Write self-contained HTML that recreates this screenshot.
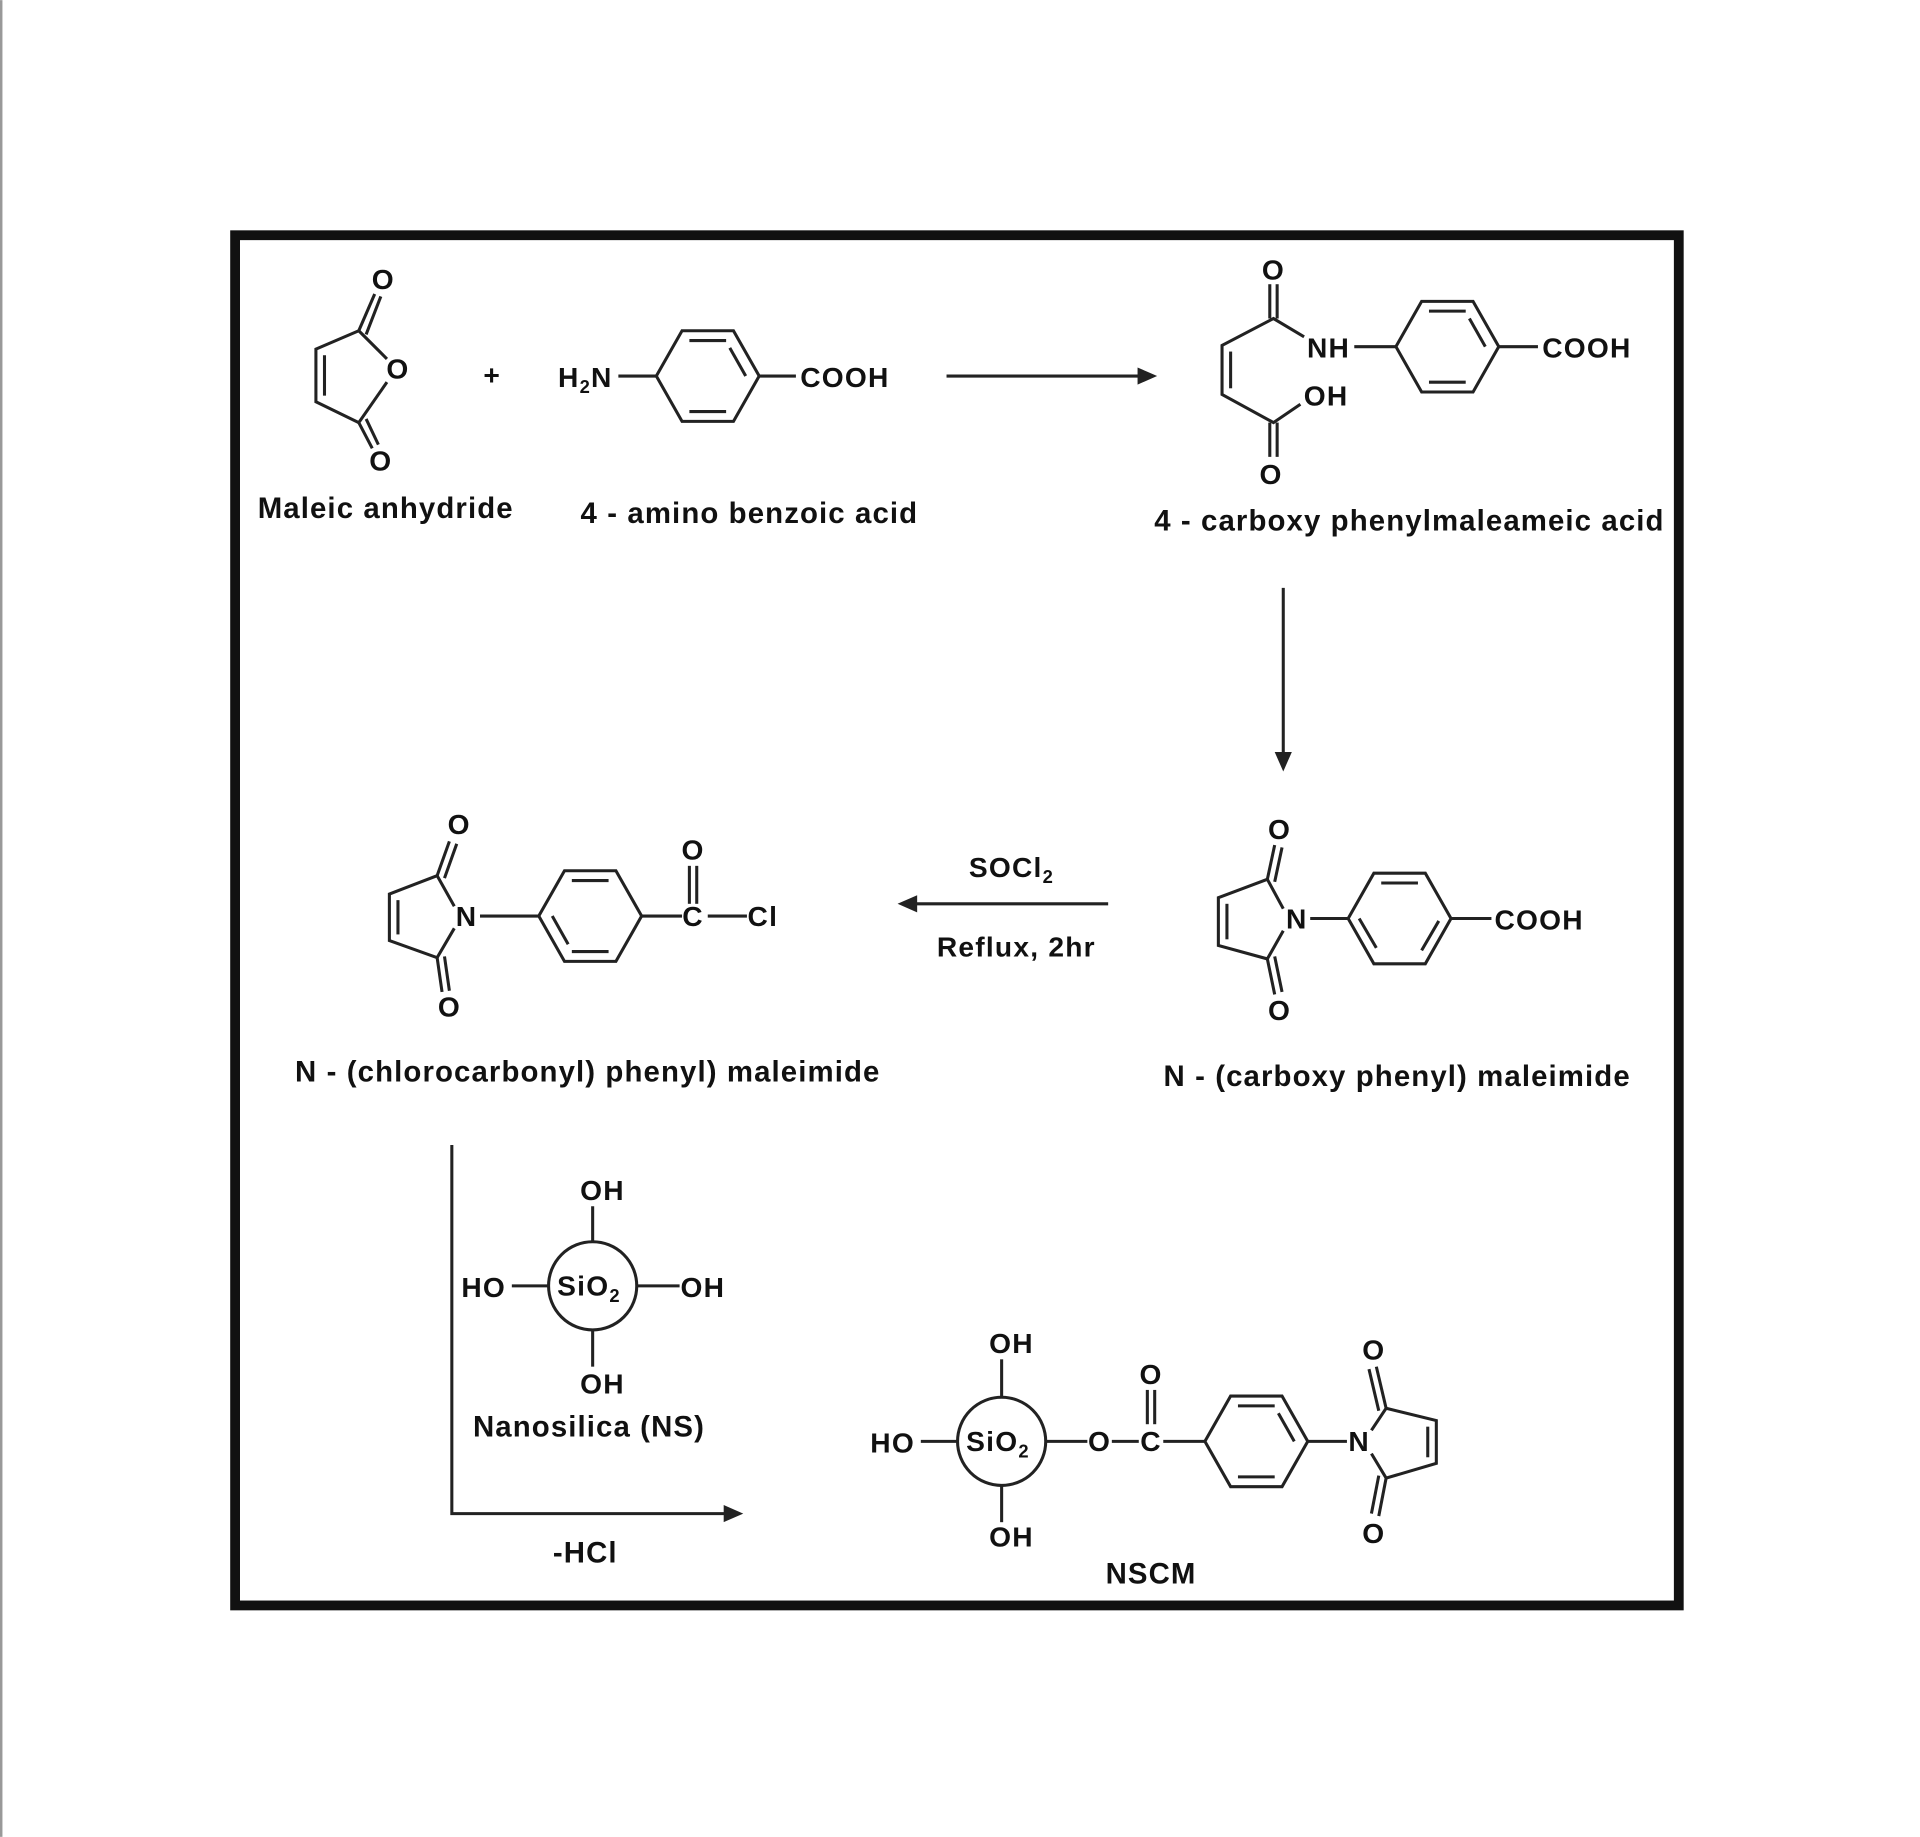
<!DOCTYPE html>
<html><head><meta charset="utf-8"><style>
html,body{margin:0;padding:0;background:#fff;}
svg{display:block;}
text{font-family:"Liberation Sans",Arial,sans-serif;font-weight:bold;fill:#111;}
</style></head><body>
<svg width="1920" height="1837" viewBox="0 0 1568 1500" xmlns="http://www.w3.org/2000/svg">
<line x1="1" y1="0" x2="1" y2="1500" stroke="#999" stroke-width="2"/>
<rect x="192" y="192" width="1179" height="1119" fill="none" stroke="#111" stroke-width="8"/>
<g stroke="#222" stroke-width="2.5" fill="none">
<polyline points="293,270 258,285 258,328 293,345"/>
<line x1="265" y1="290" x2="265" y2="323"/>
<line x1="293" y1="270" x2="316" y2="293"/>
<line x1="293" y1="345" x2="316" y2="312"/>
<line x1="293" y1="270" x2="306" y2="240"/><line x1="299" y1="273" x2="311" y2="242"/>
<line x1="293" y1="345" x2="304" y2="366"/><line x1="299" y1="342" x2="309" y2="363"/>
<line x1="505" y1="307" x2="536" y2="307"/>
<polygon points="536,307 557,270 599,270 620,307 599,344 557,344"/>
<line x1="563" y1="278" x2="593" y2="278"/><line x1="563" y1="336" x2="593" y2="336"/><line x1="609" y1="307" x2="596" y2="284"/>
<line x1="620" y1="307" x2="650" y2="307"/>
<line x1="773" y1="307" x2="935" y2="307"/>
<line x1="1037" y1="232" x2="1037" y2="260"/><line x1="1043" y1="232" x2="1043" y2="260"/>
<polyline points="1065,275 1040,260 998,282 998,322 1040,345 1062,330"/>
<line x1="1005" y1="287" x2="1005" y2="317"/>
<line x1="1037" y1="345" x2="1037" y2="373"/><line x1="1043" y1="345" x2="1043" y2="373"/>
<line x1="1106" y1="283" x2="1140" y2="283"/>
<polygon points="1140,283 1161,246 1203,246 1224,283 1203,320 1161,320"/>
<line x1="1167" y1="254" x2="1197" y2="254"/><line x1="1167" y1="312" x2="1197" y2="312"/><line x1="1213" y1="283" x2="1200" y2="260"/>
<line x1="1224" y1="283" x2="1256" y2="283"/>
<line x1="1048" y1="480" x2="1048" y2="620"/>
<polyline points="1048,742 1035,718 995,733 995,772 1035,783 1048,760"/>
<line x1="1002" y1="738" x2="1002" y2="767"/>
<line x1="1035" y1="718" x2="1041" y2="690"/><line x1="1041" y1="720" x2="1047" y2="692"/>
<line x1="1035" y1="783" x2="1041" y2="812"/><line x1="1041" y1="781" x2="1047" y2="810"/>
<line x1="1070" y1="750" x2="1101" y2="750"/>
<polygon points="1101,750 1122,713 1164,713 1185,750 1164,787 1122,787"/>
<line x1="1128" y1="721" x2="1158" y2="721"/><line x1="1110" y1="750" x2="1124" y2="774"/><line x1="1161" y1="776" x2="1175" y2="752"/>
<line x1="1185" y1="750" x2="1218" y2="750"/>
<line x1="905" y1="738" x2="745" y2="738"/>
<polyline points="371,740 357,715 318,730 318,768 357,782 371,758"/>
<line x1="325" y1="735" x2="325" y2="763"/>
<line x1="357" y1="715" x2="367" y2="687"/><line x1="363" y1="717" x2="373" y2="689"/>
<line x1="357" y1="782" x2="361" y2="810"/><line x1="363" y1="781" x2="367" y2="809"/>
<line x1="392" y1="748" x2="440" y2="748"/>
<polygon points="440,748 461,711 503,711 524,748 503,785 461,785"/>
<line x1="467" y1="719" x2="497" y2="719"/><line x1="467" y1="777" x2="497" y2="777"/><line x1="451" y1="748" x2="464" y2="771"/>
<line x1="524" y1="748" x2="557" y2="748"/>
<line x1="563" y1="707" x2="563" y2="738"/><line x1="569" y1="707" x2="569" y2="738"/>
<line x1="578" y1="748" x2="610" y2="748"/>
<polyline points="369,935 369,1236 595,1236"/>
<circle cx="484" cy="1050" r="36"/>
<line x1="484" y1="985" x2="484" y2="1014"/><line x1="418" y1="1050" x2="448" y2="1050"/>
<line x1="520" y1="1050" x2="555" y2="1050"/><line x1="484" y1="1086" x2="484" y2="1116"/>
<circle cx="818" cy="1177" r="36"/>
<line x1="818" y1="1110" x2="818" y2="1141"/><line x1="752" y1="1177" x2="782" y2="1177"/>
<line x1="818" y1="1213" x2="818" y2="1243"/>
<line x1="854" y1="1177" x2="888" y2="1177"/><line x1="908" y1="1177" x2="930" y2="1177"/>
<line x1="937" y1="1135" x2="937" y2="1163"/><line x1="943" y1="1135" x2="943" y2="1163"/>
<line x1="950" y1="1177" x2="984" y2="1177"/>
<polygon points="984,1177 1005,1140 1047,1140 1068,1177 1047,1214 1005,1214"/>
<line x1="1011" y1="1148" x2="1041" y2="1148"/><line x1="1011" y1="1206" x2="1041" y2="1206"/><line x1="1057" y1="1177" x2="1044" y2="1154"/>
<line x1="1068" y1="1177" x2="1100" y2="1177"/>
<polyline points="1120,1168 1132,1150 1173,1160 1173,1195 1132,1207 1120,1187"/>
<line x1="1166" y1="1165" x2="1166" y2="1190"/>
<line x1="1132" y1="1150" x2="1124" y2="1116"/><line x1="1126" y1="1152" x2="1118" y2="1118"/>
<line x1="1132" y1="1207" x2="1126" y2="1238"/><line x1="1126" y1="1205" x2="1120" y2="1236"/>
</g>
<g fill="#222">
<polygon points="945,307 929,300 929,314"/>
<polygon points="1048,630 1041,614 1055,614"/>
<polygon points="733,738 749,731 749,745"/>
<polygon points="607,1236 591,1229 591,1243"/>
</g>
<g font-size="23" letter-spacing="1" text-anchor="middle">
<text x="313" y="236">O</text><text x="325" y="309">O</text><text x="311" y="384">O</text>
<text x="402" y="314">+</text>
<text x="478" y="316">H<tspan font-size="15" dy="5">2</tspan><tspan dy="-5">N</tspan></text>
<text x="690" y="316">COOH</text>
<text x="1040" y="228">O</text><text x="1085" y="292">NH</text><text x="1083" y="331">OH</text><text x="1038" y="395">O</text>
<text x="1296" y="292">COOH</text>
<text x="1045" y="685">O</text><text x="1059" y="758">N</text><text x="1045" y="833">O</text><text x="1257" y="759">COOH</text>
<text x="826" y="716">SOCl<tspan font-size="15" dy="5">2</tspan></text>
<text x="830" y="781">Reflux, 2hr</text>
<text x="375" y="681">O</text><text x="381" y="756">N</text><text x="367" y="830">O</text>
<text x="566" y="702">O</text><text x="566" y="756">C</text><text x="623" y="756">Cl</text>
<text x="492" y="980">OH</text><text x="395" y="1059">HO</text><text x="574" y="1059">OH</text><text x="492" y="1138">OH</text>
<text x="481" y="1058">SiO<tspan font-size="15" dy="5">2</tspan></text>
<text x="826" y="1105">OH</text><text x="729" y="1186">HO</text><text x="826" y="1263">OH</text>
<text x="815" y="1185">SiO<tspan font-size="15" dy="5">2</tspan></text>
<text x="898" y="1185">O</text><text x="940" y="1185">C</text><text x="940" y="1130">O</text>
<text x="1110" y="1185">N</text><text x="1122" y="1110">O</text><text x="1122" y="1260">O</text>
</g>
<g font-size="24" letter-spacing="0.9" text-anchor="middle">
<text x="315" y="423">Maleic anhydride</text>
<text x="612" y="427">4 - amino benzoic acid</text>
<text x="1151" y="433">4 - carboxy phenylmaleameic acid</text>
<text x="1141" y="887">N - (carboxy phenyl) maleimide</text>
<text x="480" y="883">N - (chlorocarbonyl) phenyl) maleimide</text>
<text x="481" y="1173">Nanosilica (NS)</text>
<text x="478" y="1276">-HCl</text>
<text x="940" y="1293">NSCM</text>
</g>
</svg>
</body></html>
